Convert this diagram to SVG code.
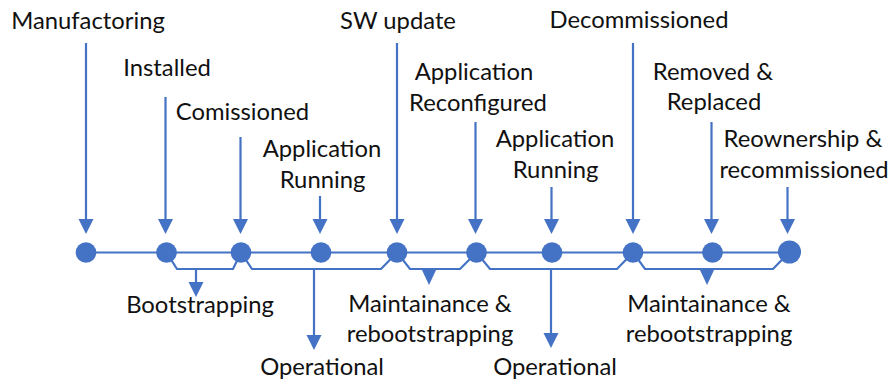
<svg xmlns="http://www.w3.org/2000/svg" width="892" height="383" viewBox="0 0 892 383">
<style>
.ln{stroke:#4472C4;stroke-width:2.2;fill:none}
.hd{fill:#4472C4}
.dot{fill:#4472C4}
text{font-family:Lato,"Liberation Sans",sans-serif;font-size:23.8px;fill:#111;text-anchor:middle}
</style>
<rect width="892" height="383" fill="#fff"/>
<g id="connectors">
<line class="ln" x1="86" y1="252.5" x2="789" y2="252.5"/>
<path class="ln" d="M166.5 252.5 L177 269 H233 L241 252.5"/>
<path class="ln" d="M241 252.5 L252 269 H381 L397 252.5"/>
<path class="ln" d="M397 252.5 L410 269 H460 L476.5 252.5"/>
<path class="ln" d="M476.5 252.5 L490 269 H617 L633 252.5"/>
<path class="ln" d="M633 252.5 L645 269 H773 L789 252.5"/>
<g id="top-arrows">
<line class="ln" x1="86" y1="43" x2="86" y2="220"/><polygon class="hd" points="78.5,219 93.5,219 86,234"/>
<line class="ln" x1="165.5" y1="97" x2="165.5" y2="220"/><polygon class="hd" points="158,219 173,219 165.5,234"/>
<line class="ln" x1="240.5" y1="137" x2="240.5" y2="220"/><polygon class="hd" points="233,219 248,219 240.5,234"/>
<line class="ln" x1="320" y1="196" x2="320" y2="220"/><polygon class="hd" points="312.5,219 327.5,219 320,234"/>
<line class="ln" x1="397" y1="43" x2="397" y2="220"/><polygon class="hd" points="389.5,219 404.5,219 397,234"/>
<line class="ln" x1="475.5" y1="122" x2="475.5" y2="220"/><polygon class="hd" points="468,219 483,219 475.5,234"/>
<line class="ln" x1="551.5" y1="187" x2="551.5" y2="220"/><polygon class="hd" points="544,219 559,219 551.5,234"/>
<line class="ln" x1="633" y1="43" x2="633" y2="220"/><polygon class="hd" points="625.5,219 640.5,219 633,234"/>
<line class="ln" x1="711.5" y1="122" x2="711.5" y2="220"/><polygon class="hd" points="704,219 719,219 711.5,234"/>
<line class="ln" x1="787.5" y1="187" x2="787.5" y2="220"/><polygon class="hd" points="780,219 795,219 787.5,234"/>
</g>
<g id="bottom-arrows">
<line class="ln" x1="196" y1="269" x2="196" y2="283"/><polygon class="hd" points="188.5,282 203.5,282 196,297"/>
<line class="ln" x1="314" y1="269" x2="314" y2="336"/><polygon class="hd" points="306.5,335 321.5,335 314,350"/>
<polygon class="hd" points="421.5,269 436.5,269 429,285"/>
<line class="ln" x1="551" y1="269" x2="551" y2="334"/><polygon class="hd" points="543.5,333 558.5,333 551,348"/>
<polygon class="hd" points="699.5,269 714.5,269 707,285"/>
</g>
</g>
<g id="n1"><circle class="dot" cx="86" cy="252.5" r="10.3"/><text x="88" y="29">Manufactoring</text></g>
<g id="n2"><circle class="dot" cx="166.5" cy="252.5" r="10.3"/><text x="167" y="76">Installed</text></g>
<g id="n3"><circle class="dot" cx="241" cy="252.5" r="10.3"/><text x="242.5" y="120">Comissioned</text></g>
<g id="n4"><circle class="dot" cx="321" cy="252.5" r="10.3"/><text x="322" y="157">Application</text><text x="322.5" y="188">Running</text></g>
<g id="n5"><circle class="dot" cx="397" cy="252.5" r="10.3"/><text x="398" y="29">SW update</text></g>
<g id="n6"><circle class="dot" cx="476.5" cy="252.5" r="10.3"/><text x="474" y="80">Application</text><text x="478" y="111">Reconfigured</text></g>
<g id="n7"><circle class="dot" cx="552" cy="252.5" r="10.3"/><text x="555" y="147">Application</text><text x="555.5" y="178">Running</text></g>
<g id="n8"><circle class="dot" cx="633" cy="252.5" r="10.3"/><text x="639" y="28">Decommissioned</text></g>
<g id="n9"><circle class="dot" cx="712.5" cy="252.5" r="10.3"/><text x="713" y="80">Removed &amp;</text><text x="714" y="110">Replaced</text></g>
<g id="n10"><circle class="dot" cx="789.5" cy="252" r="11.5"/><text x="803" y="147">Reownership &amp;</text><text x="804" y="178">recommissioned</text></g>
<g id="l-boot"><text x="200" y="313">Bootstrapping</text></g>
<g id="l-op1"><text x="322" y="375">Operational</text></g>
<g id="l-maint1"><text x="430" y="311.5">Maintainance &amp;</text><text x="430" y="342">rebootstrapping</text></g>
<g id="l-op2"><text x="555" y="375">Operational</text></g>
<g id="l-maint2"><text x="709" y="311.5">Maintainance &amp;</text><text x="709" y="342">rebootstrapping</text></g>
</svg>
